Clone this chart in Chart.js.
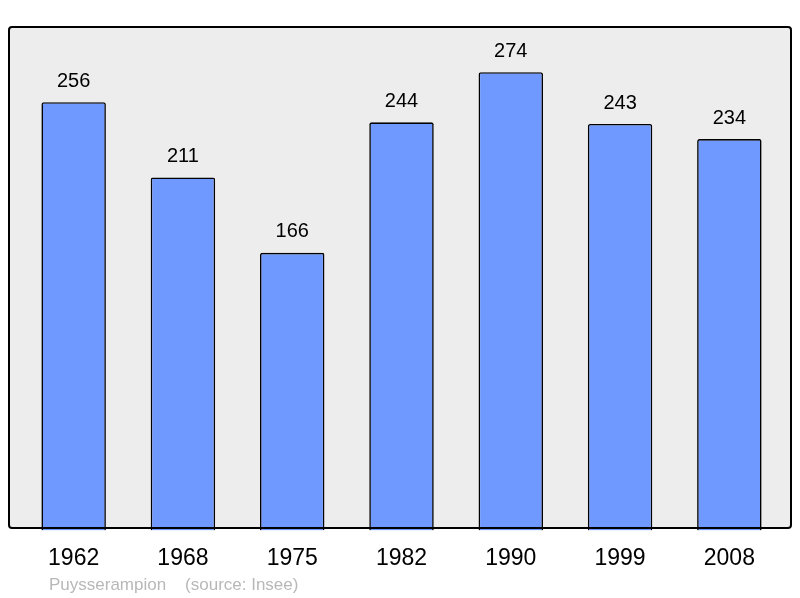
<!DOCTYPE html>
<html>
<head>
<meta charset="utf-8">
<script src="https://cdn.jsdelivr.net/npm/chart.js@4"></script>
<style>
  html, body { margin: 0; padding: 0; background: #fff; }
  #wrap { width: 800px; height: 598px; }
</style>
</head>
<body>
<div id="wrap"><canvas id="chart" width="800" height="598"></canvas></div>
<script>
const years = ['1962', '1968', '1975', '1982', '1990', '1999', '2008']
const population = [256, 211, 166, 244, 274, 243, 234]
const footerText = 'Puysserampion    (source: Insee)'

const FONT = '"Liberation Sans", Arial, sans-serif'

// grey frame behind the bars, outline drawn after them
const framePlugin = {
  id: 'frame',
  beforeDatasetsDraw (chart) {
    const ctx = chart.ctx
    ctx.save()
    ctx.beginPath()
    ctx.roundRect(9, 27, 782, 501, 3)
    ctx.fillStyle = '#ededed'
    ctx.fill()
    ctx.restore()
  },
  afterDatasetsDraw (chart) {
    const ctx = chart.ctx
    ctx.save()
    ctx.beginPath()
    ctx.roundRect(9, 27, 782, 501, 3)
    ctx.lineWidth = 2
    ctx.strokeStyle = '#000'
    ctx.stroke()

    // value labels above the bars
    const meta = chart.getDatasetMeta(0)
    ctx.fillStyle = '#000'
    ctx.font = '20px ' + FONT
    ctx.textAlign = 'center'
    ctx.textBaseline = 'middle'
    meta.data.forEach(function (bar, i) {
      ctx.fillText(String(population[i]), bar.x, bar.y - 21)
    })

    // footer
    ctx.fillStyle = '#b8b8b8'
    ctx.font = '17px ' + FONT
    ctx.textAlign = 'left'
    ctx.fillText(footerText, 49, 585)
    ctx.restore()
  }
}

const ctx = document.getElementById('chart')
new Chart(ctx, {
  type: 'bar',
  data: {
    labels: years,
    datasets: [{
      data: population,
      backgroundColor: '#7099ff',
      borderColor: '#000',
      borderWidth: 1.6,
      borderRadius: 2,
      borderSkipped: 'bottom',
      barPercentage: 0.59,
      categoryPercentage: 1
    }]
  },
  options: {
    responsive: false,
    animation: false,
    layout: {
      padding: { left: 19, right: 16, top: 27, bottom: 12 }
    },
    plugins: {
      legend: { display: false },
      tooltip: { enabled: false }
    },
    scales: {
      y: {
        display: false,
        min: 0,
        max: 301
      },
      x: {
        grid: { display: false, drawTicks: false },
        border: { display: false },
        ticks: {
          color: '#000',
          font: { family: FONT, size: 23 },
          padding: 14
        }
      }
    }
  },
  plugins: [framePlugin]
})
</script>
</body>
</html>
